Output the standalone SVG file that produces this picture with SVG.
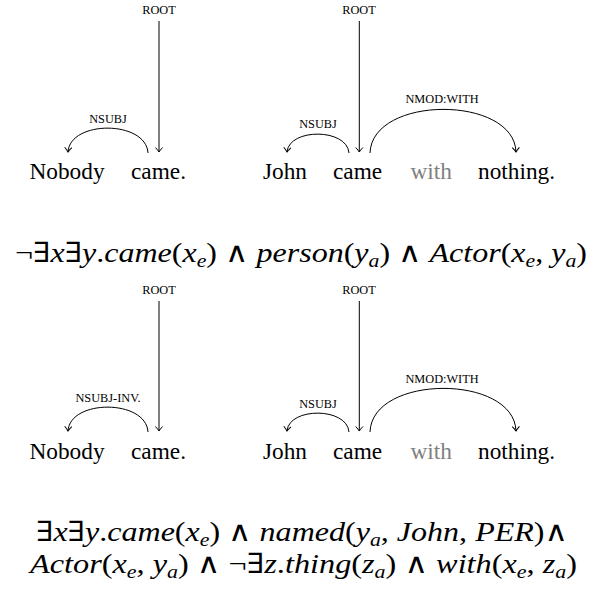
<svg xmlns="http://www.w3.org/2000/svg" width="603" height="592" viewBox="0 0 603 592">
<style>
.w{font-family:"Liberation Serif","Times New Roman",serif;font-size:23.3px;fill:#000}
.g{fill:#7f7f7f}
.l{font-family:"Liberation Serif","Times New Roman",serif;font-size:12.3px;fill:#000;text-anchor:middle}
.e{fill:none;stroke:#000;stroke-width:1}
.f{font-family:"Liberation Serif","DejaVu Serif",serif;font-size:28px;font-style:italic;fill:#000}
.u{font-style:normal}
.s{font-size:19px}
</style>
<defs>
<marker id="ah" markerUnits="userSpaceOnUse" markerWidth="12" markerHeight="12" viewBox="-6 -6 12 12" refX="0" refY="0" orient="auto" overflow="visible">
<path d="M-4.5,-3.6 Q-1.6,-0.9 0,0 Q-1.6,0.9 -4.5,3.6" fill="none" stroke="#000" stroke-width="1"/>
</marker>
</defs>

<g id="words-1a">
<text class="w" x="29.5" y="179">Nobody</text>
<text class="w" x="131" y="179">came.</text>
</g>
<g id="words-1b">
<text class="w" x="263" y="179">John</text>
<text class="w" x="333" y="179">came</text>
<text class="w g" x="410.5" y="179">with</text>
<text class="w" x="478" y="179">nothing.</text>
</g>
<g id="words-2a">
<text class="w" x="29.5" y="459">Nobody</text>
<text class="w" x="131" y="459">came.</text>
</g>
<g id="words-2b">
<text class="w" x="263" y="459">John</text>
<text class="w" x="333" y="459">came</text>
<text class="w g" x="410.5" y="459">with</text>
<text class="w" x="478" y="459">nothing.</text>
</g>

<g id="labels">
<text class="l" x="159" y="14">ROOT</text>
<text class="l" x="108" y="123">NSUBJ</text>
<text class="l" x="359" y="14">ROOT</text>
<text class="l" x="318" y="128">NSUBJ</text>
<text class="l" x="442" y="103">NMOD:WITH</text>
<text class="l" x="159" y="294">ROOT</text>
<text class="l" x="108" y="402">NSUBJ-INV.</text>
<text class="l" x="359" y="294">ROOT</text>
<text class="l" x="318" y="408">NSUBJ</text>
<text class="l" x="442" y="383">NMOD:WITH</text>
</g>

<g id="connectors">
<path class="e" d="M159,21 V152" marker-end="url(#ah)"/>
<path class="e" d="M148,153 C146,120 70,120 68,152" marker-end="url(#ah)"/>
<path class="e" d="M359.3,21 V152" marker-end="url(#ah)"/>
<path class="e" d="M349,153 C347,128 289,128 287,152" marker-end="url(#ah)"/>
<path class="e" d="M370,153 C372,95 514,95 516,152" marker-end="url(#ah)"/>
<path class="e" d="M159,301 V431" marker-end="url(#ah)"/>
<path class="e" d="M148,432 C146,399 70,399 68,431" marker-end="url(#ah)"/>
<path class="e" d="M359.3,301 V431" marker-end="url(#ah)"/>
<path class="e" d="M349,432 C347,407 289,407 287,431" marker-end="url(#ah)"/>
<path class="e" d="M370,432 C372,374 514,374 516,431" marker-end="url(#ah)"/>
</g>

<g id="formula-1">
<text class="f" x="15" y="262" textLength="572" lengthAdjust="spacingAndGlyphs"><tspan class="u">¬∃</tspan>x<tspan class="u">∃</tspan>y<tspan class="u">.</tspan>came<tspan class="u">(</tspan>x<tspan class="s" dy="5">e</tspan><tspan class="u" dy="-5">) ∧ </tspan>person<tspan class="u">(</tspan>y<tspan class="s" dy="5">a</tspan><tspan class="u" dy="-5">) ∧ </tspan>Actor<tspan class="u">(</tspan>x<tspan class="s" dy="5">e</tspan><tspan class="u" dy="-5">, </tspan>y<tspan class="s" dy="5">a</tspan><tspan class="u" dy="-5">)</tspan></text>
</g>

<g id="formula-2">
<text class="f" x="36" y="541" textLength="532" lengthAdjust="spacingAndGlyphs"><tspan class="u">∃</tspan>x<tspan class="u">∃</tspan>y<tspan class="u">.</tspan>came<tspan class="u">(</tspan>x<tspan class="s" dy="5">e</tspan><tspan class="u" dy="-5">) ∧ </tspan>named<tspan class="u">(</tspan>y<tspan class="s" dy="5">a</tspan><tspan class="u" dy="-5">, </tspan>John<tspan class="u">, </tspan>PER<tspan class="u">)∧</tspan></text>
<text class="f" x="30" y="573" textLength="547" lengthAdjust="spacingAndGlyphs">Actor<tspan class="u">(</tspan>x<tspan class="s" dy="5">e</tspan><tspan class="u" dy="-5">, </tspan>y<tspan class="s" dy="5">a</tspan><tspan class="u" dy="-5">) ∧ ¬∃</tspan>z<tspan class="u">.</tspan>thing<tspan class="u">(</tspan>z<tspan class="s" dy="5">a</tspan><tspan class="u" dy="-5">) ∧ </tspan>with<tspan class="u">(</tspan>x<tspan class="s" dy="5">e</tspan><tspan class="u" dy="-5">, </tspan>z<tspan class="s" dy="5">a</tspan><tspan class="u" dy="-5">)</tspan></text>
</g>
</svg>
